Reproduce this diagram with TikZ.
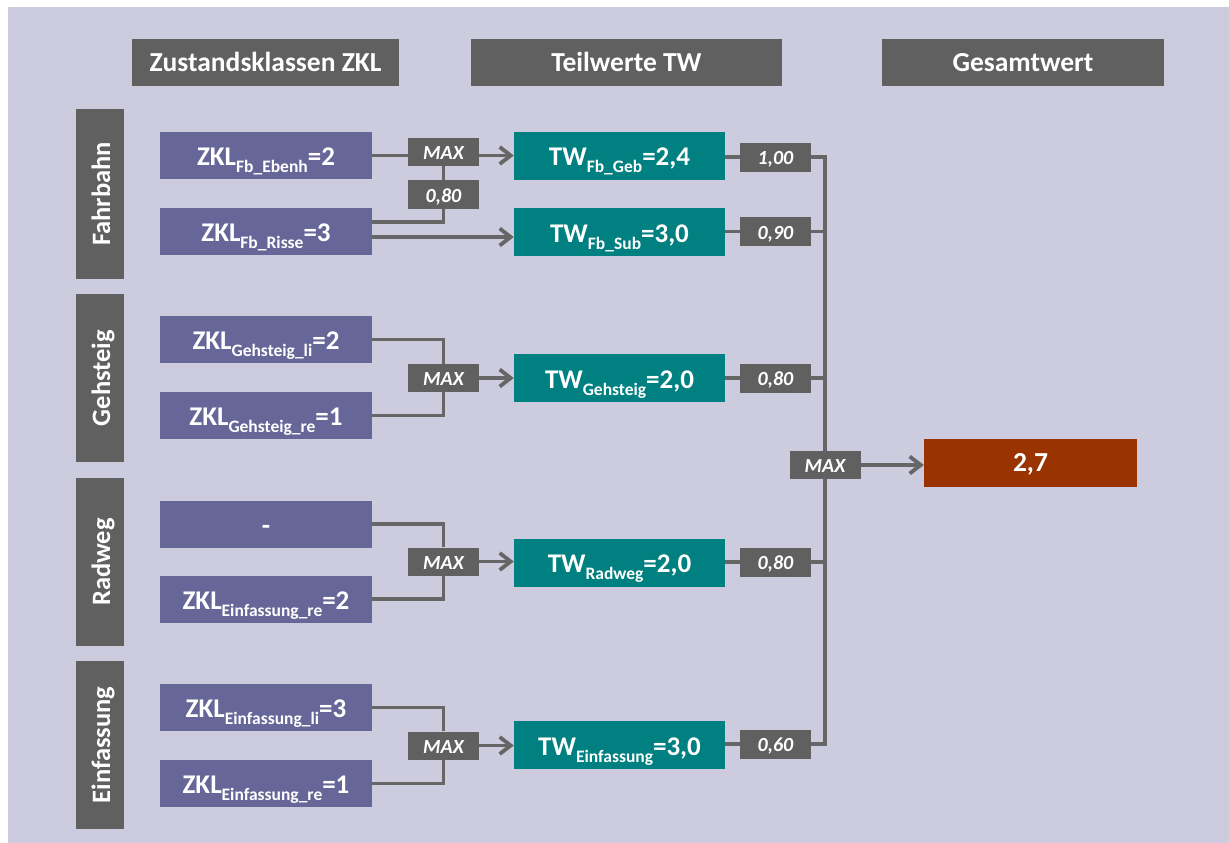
\documentclass[tikz,border=0pt]{standalone}
\usepackage{fontspec}
\setmainfont{Carlito}
\usetikzlibrary{arrows.meta}
\definecolor{bgc}{RGB}{204,204,222}
\definecolor{boxg}{RGB}{96,96,96}
\definecolor{lineg}{RGB}{102,102,102}
\definecolor{zklc}{RGB}{102,102,153}
\definecolor{twc}{RGB}{0,128,128}
\definecolor{resc}{RGB}{153,51,0}
\pgfdeclarelayer{bglayer}
\pgfdeclarelayer{linelayer}
\pgfsetlayers{bglayer,linelayer,main}
\newcommand\lowsub[1]{\raisebox{-7pt}{\fontsize{17.5}{17.5}\selectfont #1}}
\tikzset{
  base/.style={rectangle, inner sep=0pt, text=white, font=\bfseries},
  header/.style={base, fill=boxg, minimum height=47pt, text height=18.4pt, text depth=0pt, font=\fontsize{27.5}{27.5}\selectfont\bfseries},
  cat/.style={base, fill=boxg, minimum height=48pt, rotate=90, text height=20pt, text depth=0pt, font=\fontsize{26.5}{26.5}\selectfont\bfseries},
  zkl/.style={base, fill=zklc, minimum width=212pt, minimum height=47pt, text height=20.4pt, text depth=0pt, font=\fontsize{27}{27}\selectfont\bfseries},
  tw/.style={base, fill=twc, minimum width=211pt, minimum height=48pt, text height=20.4pt, text depth=0pt, font=\fontsize{27}{27}\selectfont\bfseries},
  op/.style={base, fill=boxg, minimum width=71pt, minimum height=28pt, text height=15.4pt, text depth=0pt, font=\fontsize{20}{20}\selectfont\bfseries\itshape},
  res/.style={base, fill=resc, minimum width=213pt, minimum height=48pt, text height=17.4pt, text depth=0pt, font=\fontsize{27.5}{27.5}\selectfont\bfseries},
  conn/.style={draw=lineg, line width=3.8pt},
  arr/.style={conn, -{Straight Barb[length=11pt,width=17pt,line width=3.8pt]}, line cap=round},
}
\begin{document}
\begin{tikzpicture}[x=1pt,y=-1pt]
\useasboundingbox (0,0) rectangle (1229,843);
\begin{pgfonlayer}{bglayer}
\fill[white] (0,0) rectangle (1229,843);
\fill[bgc] (8,7) rectangle (1229,843);
\end{pgfonlayer}

% headers
\node[header, minimum width=267pt] (hZKL) at (265.5,62.5) {Zustandsklassen ZKL};
\node[header, minimum width=311pt] (hTW) at (626.5,62.5) {Teilwerte TW};
\node[header, minimum width=282pt] (hGW) at (1023,62.5) {Gesamtwert};

% categories
\node[cat, minimum width=170pt] (cF) at (100,194) {Fahrbahn};
\node[cat, minimum width=168pt] (cG) at (100,378) {Gehsteig};
\node[cat, minimum width=168pt] (cR) at (100,562) {Radweg};
\node[cat, minimum width=168pt] (cE) at (100,745) {Einfassung};

% ZKL boxes
\node[zkl] (z1) at (266,155.5) {ZKL\lowsub{Fb\_Ebenh}=2};
\node[zkl] (z2) at (266,231.5) {ZKL\lowsub{Fb\_Risse}=3};
\node[zkl] (z3) at (266,339.5) {ZKL\lowsub{Gehsteig\_li}=2};
\node[zkl] (z4) at (266,415.5) {ZKL\lowsub{Gehsteig\_re}=1};
\node[zkl] (z5) at (266,524) {-};
\node[zkl] (z6) at (266,599) {ZKL\lowsub{Einfassung\_re}=2};
\node[zkl] (z7) at (266,707.5) {ZKL\lowsub{Einfassung\_li}=3};
\node[zkl] (z8) at (266,783.5) {ZKL\lowsub{Einfassung\_re}=1};

% operators
\node[op] (m1) at (443.5,151.5) {MAX};
\node[op, minimum height=29pt] (f1) at (443.5,194.5) {0,80};
\node[op] (m2) at (443.5,378) {MAX};
\node[op] (m3) at (443.5,561.5) {MAX};
\node[op] (m4) at (443.5,745.5) {MAX};

% TW boxes
\node[tw] (t1) at (619.5,155.5) {TW\lowsub{Fb\_Geb}=2,4};
\node[tw] (t2) at (619.5,232) {TW\lowsub{Fb\_Sub}=3,0};
\node[tw] (t3) at (619.5,378) {TW\lowsub{Gehsteig}=2,0};
\node[tw] (t4) at (619.5,562.5) {TW\lowsub{Radweg}=2,0};
\node[tw] (t5) at (619.5,745) {TW\lowsub{Einfassung}=3,0};

% weights
\node[op, minimum height=29pt] (w1) at (775.5,157) {1,00};
\node[op, minimum height=29pt] (w2) at (775.5,231.5) {0,90};
\node[op, minimum height=29pt] (w3) at (775.5,378) {0,80};
\node[op, minimum height=29pt] (w4) at (775.5,562) {0,80};
\node[op, minimum height=29pt] (w5) at (775.5,744) {0,60};

% total
\node[op] (mT) at (825,465) {MAX};
\node[res] (res) at (1030.5,463) {2,7};

\begin{pgfonlayer}{linelayer}
% connectors Fahrbahn
\draw[conn] (z1.east) -- (z1.east -| m1.west);
\draw[arr] (z1.east -| m1.east) -- (z1.east -| t1.west);
\draw[conn] (m1.south) -- (f1.north);
\coordinate (r1) at ([yshift=9.5pt]z2.east);
\coordinate (r2) at ([yshift=-5.5pt]z2.east);
\draw[conn] (f1.south) |- (r1);
\draw[arr] (r2) -- (r2 -| t2.west);

% Gehsteig, Radweg, Einfassung
\draw[conn] (z3.east) -| (m2.north);
\draw[conn] (z4.east) -| (m2.south);
\draw[arr] (m2.east) -- (m2.east -| t3.west);
\draw[conn] (z5.east) -| (m3.north);
\draw[conn] (z6.east) -| (m3.south);
\draw[arr] (m3.east) -- (m3.east -| t4.west);
\draw[conn] (z7.east) -| (m4.north);
\draw[conn] (z8.east) -| (m4.south);
\draw[arr] (m4.east) -- (m4.east -| t5.west);

% TW to weights
\draw[conn] (t1.east |- w1) -- (w1.west);
\draw[conn] (t2.east |- w2) -- (w2.west);
\draw[conn] (t3.east |- w3) -- (w3.west);
\draw[conn] (t4.east |- w4) -- (w4.west);
\draw[conn] (t5.east |- w5) -- (w5.west);

% bus
\draw[conn] (w1.east) -| (mT.north);
\draw[conn] (w5.east) -| (mT.south);
\draw[conn] (w2.east) -- (w2.east -| mT.north);
\draw[conn] (w3.east) -- (w3.east -| mT.north);
\draw[conn] (w4.east) -- (w4.east -| mT.north);
\draw[arr] (mT.east) -- (mT.east -| res.west);
\end{pgfonlayer}
\end{tikzpicture}
\end{document}
